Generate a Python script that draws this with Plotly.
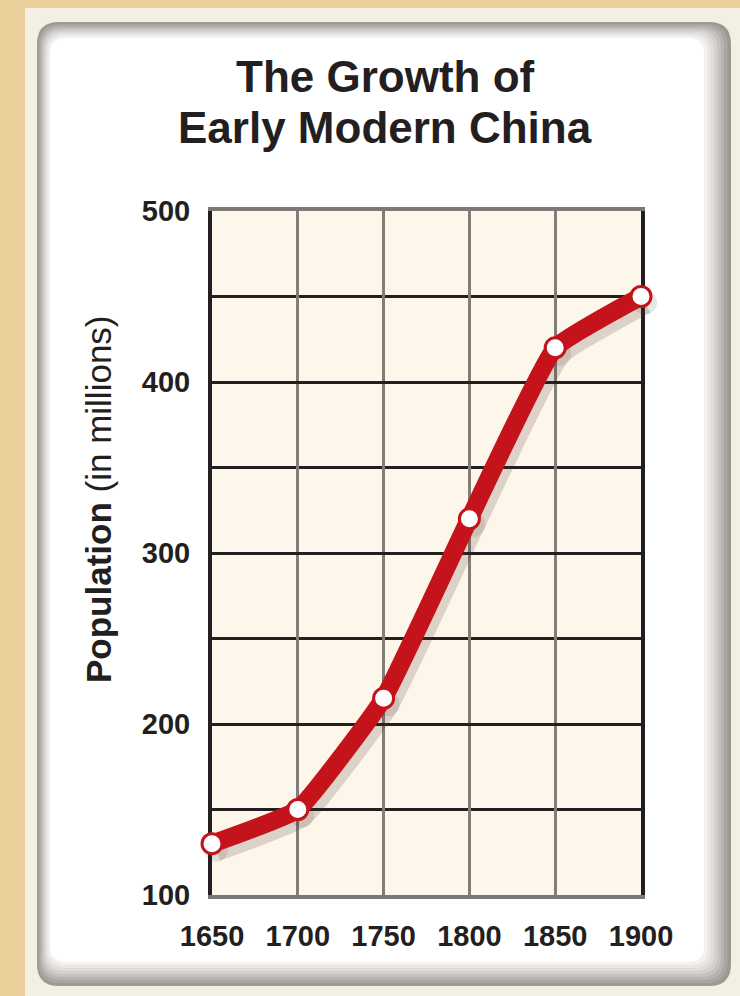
import plotly.graph_objects as go

# ---------------- data ----------------
years = [1650, 1700, 1750, 1800, 1850, 1900]
population = [130, 150, 215, 320, 420, 450]
x_tick_vals = [1650, 1700, 1750, 1800, 1850, 1900]
y_tick_vals = [100, 200, 300, 400, 500]
title_lines = ["The Growth of", "Early Modern China"]
y_title_bold = "Population"
y_title_rest = "(in millions)"

# ---------------- layout geometry (pixels) ----------------
W, H = 740, 996
ML, MR, MT, MB = 150, 40, 150, 40          # paper margins
PW, PH = W - ML - MR, H - MT - MB
L, R, T, B = 212, 641, 211, 895             # plot area in px
X0, X1, Y0, Y1 = 1650, 1900, 100, 500


def px(x):
    return (x - ML) / PW


def py(y):
    return (H - MB - y) / PH


def rrect(x0, y0, x1, y1, r):
    pts = [
        f"M{px(x0 + r)},{py(y0)}", f"L{px(x1 - r)},{py(y0)}",
        f"Q{px(x1)},{py(y0)} {px(x1)},{py(y0 + r)}", f"L{px(x1)},{py(y1 - r)}",
        f"Q{px(x1)},{py(y1)} {px(x1 - r)},{py(y1)}", f"L{px(x0 + r)},{py(y1)}",
        f"Q{px(x0)},{py(y1)} {px(x0)},{py(y1 - r)}", f"L{px(x0)},{py(y0 + r)}",
        f"Q{px(x0)},{py(y0)} {px(x0 + r)},{py(y0)}", "Z",
    ]
    return " ".join(pts)


shapes = []
# cream band around panel
shapes.append(dict(type="rect", xref="paper", yref="paper", layer="below",
                   x0=px(25), x1=px(745), y0=py(1000), y1=py(8),
                   fillcolor="#f3efe3", line=dict(width=0)))
# panel with graded edge (outer dark -> inner white)
edge_cols = ["#9c9896", "#a9a5a3", "#b7b3b1", "#c5c2c0", "#d3d0ce",
             "#dfdddc", "#eae8e7", "#f3f2f1", "#ffffff"]
n = len(edge_cols)
for i, col in enumerate(edge_cols):
    f = i / (n - 1)
    a = 37 + 13 * f
    b = 22 + 16 * f
    c = 731 - 27 * f
    d = 986 - 24 * f
    shapes.append(dict(type="path", xref="paper", yref="paper", layer="below",
                       path=rrect(a, b, c, d, 22 - 6 * f), fillcolor=col, line=dict(width=0)))
# plot background
shapes.append(dict(type="rect", xref="paper", yref="paper", layer="below",
                   x0=px(L), x1=px(R), y0=py(B), y1=py(T),
                   fillcolor="#fdf6ea", line=dict(width=0)))

fig = go.Figure()

# dummy trace on grid axes
fig.add_trace(go.Scatter(x=[], y=[], xaxis="x", yaxis="y", showlegend=False))


def ext_axes(dx, dy, ext=24):
    xs = (X1 - X0) / (R - L)
    ys = (Y1 - Y0) / (B - T)
    xdom = [px(L + dx - ext), px(R + dx + ext)]
    ydom = [py(B + dy + ext), py(T + dy - ext)]
    xr = [X0 - ext * xs, X1 + ext * xs]
    yr = [Y0 - ext * ys, Y1 + ext * ys]
    return xdom, ydom, xr, yr


SMOOTH = 0.35
# shadow
fig.add_trace(go.Scatter(
    x=years, y=population, mode="lines+markers", xaxis="x2", yaxis="y2",
    line=dict(color="rgba(70,50,50,0.18)", width=23, shape="spline", smoothing=SMOOTH),
    marker=dict(size=24, color="rgba(70,50,50,0.12)"),
    hoverinfo="skip", showlegend=False))
# main line
fig.add_trace(go.Scatter(
    x=years, y=population, mode="lines+markers", xaxis="x3", yaxis="y3",
    line=dict(color="#c4131b", width=18, shape="spline", smoothing=SMOOTH),
    marker=dict(size=20, color="white", line=dict(color="#c4131b", width=3)),
    showlegend=False))

tick_font = dict(family="Liberation Sans, Arial, sans-serif",
                 size=29, color="#231f20", weight="bold")
title_font = dict(family="Liberation Sans, Arial, sans-serif",
                  size=44, color="#231f20", weight="bold")

layout = dict(
    width=W, height=H,
    margin=dict(l=ML, r=MR, t=MT, b=MB, pad=0, autoexpand=False),
    paper_bgcolor="#e9d09a",
    plot_bgcolor="rgba(0,0,0,0)",
    showlegend=False,
    shapes=shapes,
    xaxis=dict(domain=[px(L), px(R)], range=[X0, X1], anchor="y",
               tickvals=x_tick_vals, ticktext=[str(v) for v in x_tick_vals],
               tickangle=0, automargin=False,
               showgrid=True, gridcolor="#837d78", gridwidth=3,
               showline=True, linecolor="#7b7875", linewidth=4, mirror=True,
               ticks="", ticklabelstandoff=12, tickfont=tick_font, zeroline=False),
    yaxis=dict(domain=[py(B), py(T)], range=[Y0, Y1], anchor="x",
               tickvals=y_tick_vals, ticktext=[str(v) for v in y_tick_vals],
               automargin=False,
               showgrid=True, gridcolor="#231f20", gridwidth=3,
               minor=dict(dtick=50, tick0=0, showgrid=True, gridcolor="#231f20", gridwidth=3),
               showline=True, linecolor="#231f20", linewidth=4, mirror=True,
               ticks="", ticklabelstandoff=12, tickfont=tick_font, zeroline=False),
)

for i, (dx, dy) in zip([2, 3], [(4, 6), (0, 0)]):
    xdom, ydom, xr, yr = ext_axes(dx, dy)
    layout[f"xaxis{i}"] = dict(domain=xdom, range=xr, anchor=f"y{i}", visible=False, fixedrange=True)
    layout[f"yaxis{i}"] = dict(domain=ydom, range=yr, anchor=f"x{i}", visible=False, fixedrange=True)

layout["annotations"] = [
    dict(xref="paper", yref="paper", x=px(385), y=py(77), xanchor="center", yanchor="middle",
         text=title_lines[0], showarrow=False, font=title_font),
    dict(xref="paper", yref="paper", x=px(385), y=py(127), xanchor="center", yanchor="middle",
         text=title_lines[1], showarrow=False, font=title_font),
    dict(xref="paper", yref="paper", x=px(98), y=py(499), xanchor="center", yanchor="middle",
         textangle=-90, showarrow=False,
         text=f"<b>{y_title_bold}</b> {y_title_rest}",
         font=dict(family="Liberation Sans, Arial, sans-serif", size=35, color="#231f20")),
]

fig.update_layout(**layout)
fig.write_html("out.html")
